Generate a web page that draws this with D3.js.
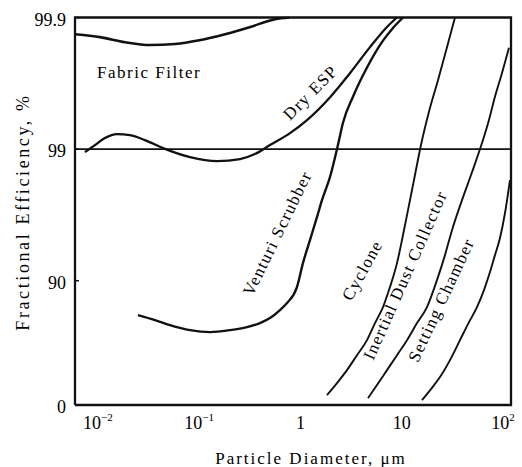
<!DOCTYPE html>
<meta charset="utf-8">
<html>
<head>
  <title>Fractional efficiency</title>
  <script src="https://d3js.org/d3.v7.min.js"></script>
  <style>
    body { margin: 0; background: #fff; }
    text { font-family: 'Liberation Serif', 'DejaVu Serif', serif; fill: #000; }
  </style>
</head>
<body>
<script>

  // particle diameter (um) / fractional efficiency (%)
  var fabricD = [0.006, 0.0105, 0.0185, 0.0326, 0.0576, 0.10, 0.18, 0.32, 0.56, 0.78];
  var fabricE = [99.866, 99.859, 99.846, 99.838, 99.841, 99.851, 99.866, 99.882, 99.897, 99.9];

  var espD = [0.00744, 0.00934, 0.0117, 0.0154, 0.0207, 0.0291, 0.0439, 0.081, 0.150, 0.253, 0.355, 0.50, 0.788, 1.16, 1.96, 3.08, 4.86, 7.15, 8.97];
  var espE = [98.946, 99.068, 99.175, 99.231, 99.217, 99.146, 99.017, 98.85, 98.766, 98.809, 98.909, 99.068, 99.244, 99.398, 99.597, 99.735, 99.832, 99.882, 99.9];

  var venturiD = [0.0248, 0.0366, 0.0514, 0.081, 0.128, 0.201, 0.296, 0.398, 0.50, 0.627, 0.736, 0.923, 1.058, 1.241, 1.455, 1.631, 1.956, 2.344, 2.629, 3.30, 4.54, 6.53, 8.20, 10.3];
  var venturiE = [81.75, 80.07, 78.25, 76.26, 75.42, 76.26, 77.48, 79.0, 80.76, 83.27, 85.2, 88.82, 92.65, 95.09, 96.71, 97.56, 98.37, 99.07, 99.37, 99.6, 99.76, 99.85, 99.88, 99.9];

  var cycloneD = [1.827, 2.294, 2.878, 3.614, 4.54, 5.445, 6.53, 7.65, 8.98, 10.06, 11.53, 13.21, 15.49, 18.58, 22.8, 27.35, 33.57];
  var cycloneE = [26.0, 40.0, 52.2, 63.2, 71.7, 79.0, 84.13, 88.82, 92.65, 95.09, 97.09, 98.28, 99.07, 99.48, 99.70, 99.82, 99.9];

  var inertialD = [4.642, 5.694, 7.15, 8.98, 11.27, 14.15, 17.75, 22.29, 26.74, 31.36, 39.37, 49.42, 62.03, 72.7, 83.3, 97.7, 114.6];
  var inertialE = [22.0, 37.9, 52.2, 63.2, 71.7, 79.0, 84.13, 90.1, 93.61, 95.87, 97.56, 98.5, 99.1, 99.4, 99.6, 99.735, 99.83];

  var settlingD = [15.85, 19.45, 23.87, 29.96, 37.6, 45.1, 55.35, 64.9, 74.4, 83.3, 93.3, 104.7, 117.2];
  var settlingE = [19.2, 33.4, 46.0, 59.9, 71.7, 78.63, 84.13, 88.21, 91.4, 93.61, 95.25, 96.94, 98.28];

  // curve labels: text, anchor diameter, anchor efficiency, rotation
  var labelText = ["Dry ESP", "Venturi Scrubber", "Cyclone", "Inertial Dust Collector", "Setting Chamber"];
  var labelD = [1.25, 0.586, 4.05, 10.77, 24.4];
  var labelE = [99.63, 95.65, 91.7, 90.93, 86.0];
  var labelRot = [-45, -64, -61, -66, -65];

  var yTicks = [99.9, 99, 90, 0];
  var xTicks = [0.01, 0.1, 1, 10, 100];

  var width = 522, height = 467;
  var padL = 75, padR = 511, padT = 17.5, padB = 405;

  var svg = d3.select("body").append("svg")
      .attr("width", width)
      .attr("height", height);

  var x = d3.scaleLog().domain([0.00593, 120]).range([padL, padR]);
  // probability-like axis: log of (100 - efficiency)
  var yp = d3.scaleLog().domain([0.1, 88]).range([padT, padB]).clamp(true);
  function y(e) { return yp(100 - e); }

  svg.append("clipPath").attr("id", "plot")
    .append("rect")
      .attr("x", padL).attr("y", padT - 1)
      .attr("width", padR - padL).attr("height", padB - padT + 1);

  // 99 % reference line
  svg.append("line")
      .attr("x1", padL).attr("x2", padR)
      .attr("y1", y(99)).attr("y2", y(99))
      .attr("stroke", "#111").attr("stroke-width", 1.6);

  // frame
  svg.append("path")
      .attr("d", "M" + padL + "," + padB + "V" + padT + "H" + padR + "V" + padB + "H" + padL)
      .attr("fill", "none").attr("stroke", "#111").attr("stroke-width", 2.3);

  // small inward ticks on y
  svg.selectAll(".ytick")
      .data(yTicks)
      .enter().append("line")
      .attr("x1", padL).attr("x2", padL + 4)
      .attr("y1", function (d) { return y(d); })
      .attr("y2", function (d) { return y(d); })
      .attr("stroke", "#111").attr("stroke-width", 1.5);

  svg.selectAll(".ylab")
      .data(yTicks)
      .enter().append("text")
      .attr("x", padL - 9)
      .attr("y", function (d) { return y(d); })
      .attr("dy", "0.45em")
      .attr("text-anchor", "end")
      .attr("font-size", 18)
      .text(function (d) { return d; });

  // x tick labels, powers of ten
  var xl = svg.selectAll(".xlab")
      .data(xTicks)
      .enter().append("text")
      .attr("x", function (d) { return x(d); })
      .attr("y", padB + 24)
      .attr("text-anchor", "middle")
      .attr("font-size", 18);
  xl.each(function (d) {
    var t = d3.select(this), p = Math.round(Math.log10(d));
    if (p === 0) { t.text("1"); return; }
    if (p === 1) { t.text("10"); return; }
    t.append("tspan").text("10");
    t.append("tspan")
        .attr("dy", -8)
        .attr("font-size", 11)
        .text(p < 0 ? "\u2212" + (-p) : p);
  });

  // axis titles
  svg.append("text")
      .attr("transform", "translate(" + 29 + "," + 212 + ") rotate(-90)")
      .attr("text-anchor", "middle")
      .attr("font-size", 18)
      .attr("letter-spacing", 2.6)
      .text("Fractional Efficiency, %");

  svg.append("text")
      .attr("x", 311)
      .attr("y", 464)
      .attr("text-anchor", "middle")
      .attr("font-size", 17)
      .attr("letter-spacing", 2)
      .text("Particle Diameter, \u03bcm");

  // curves
  var line = d3.line()
      .x(function (d) { return x(d[0]); })
      .y(function (d) { return y(d[1]); })
      .curve(d3.curveMonotoneX);

  var curves = [
    [fabricD, fabricE, 2.6],
    [espD, espE, 2.3],
    [venturiD, venturiE, 2.4],
    [cycloneD, cycloneE, 1.9],
    [inertialD, inertialE, 1.9],
    [settlingD, settlingE, 1.9]
  ];

  svg.append("g")
      .attr("clip-path", "url(#plot)")
    .selectAll("path")
      .data(curves)
      .enter().append("path")
      .attr("d", function (c) { return line(d3.zip(c[0], c[1])); })
      .attr("fill", "none")
      .attr("stroke", "#111")
      .attr("stroke-width", function (c) { return c[2]; });

  svg.append("text")
      .attr("x", x(0.0098))
      .attr("y", y(99.71))
      .attr("font-size", 17)
      .attr("letter-spacing", 1.5)
      .text("Fabric Filter");

  svg.selectAll(".clab")
      .data(labelText)
      .enter().append("text")
      .attr("transform", function (d, i) {
        return "translate(" + x(labelD[i]) + "," + y(labelE[i]) + ") rotate(" + labelRot[i] + ")";
      })
      .attr("text-anchor", "middle")
      .attr("dy", "0.35em")
      .attr("font-size", 17)
      .attr("letter-spacing", 1.3)
      .text(function (d) { return d; });

</script>
</body>
</html>
